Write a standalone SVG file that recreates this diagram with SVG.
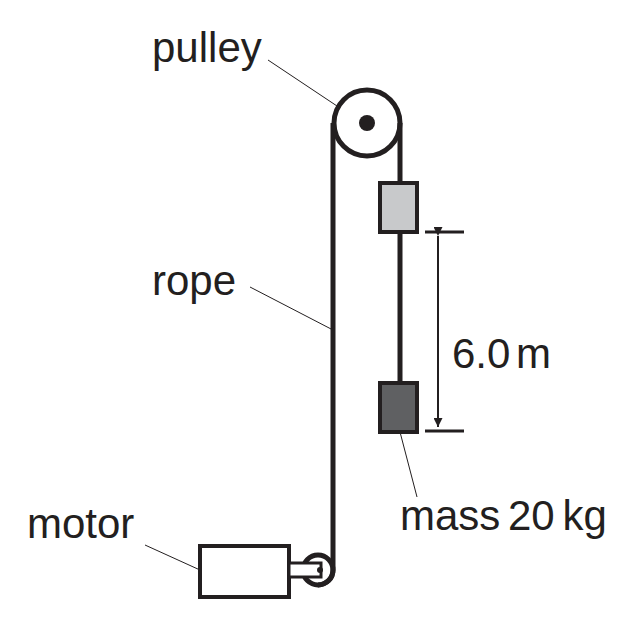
<svg xmlns="http://www.w3.org/2000/svg" width="640" height="622" viewBox="0 0 640 622">
<style>
.t{font-family:"Liberation Sans",Arial,sans-serif;font-size:42px;fill:#231f20}
.k{stroke:#231f20;stroke-width:5;fill:none}
.l{stroke:#231f20;stroke-width:1;fill:none}
</style>
<defs><marker id="a" viewBox="0 0 10 10" refX="10" refY="5" markerWidth="11" markerHeight="9" markerUnits="userSpaceOnUse" orient="auto"><path d="M0,0L10,5L0,10z" fill="#231f20"/></marker></defs>
<rect width="640" height="622" fill="#fff"/>
<g id="connectors">
<path class="k" d="M333,123V570A15,15 0 0 1 318,585"/>
<path class="k" d="M400,123V183M400,232V383"/>
<path class="l" d="M268,60L337,106M250,287L333,330M400,432L417,497M145,545L200,570"/>
<path d="M425,232H464M425,431H464" stroke="#231f20" stroke-width="3"/>
<path d="M438,236V427" stroke="#231f20" stroke-width="2" marker-start="url(#a)" marker-end="url(#a)"/>
</g>
<g id="pulley"><circle class="k" cx="367" cy="123" r="33"/><circle cx="367" cy="123" r="8" fill="#231f20"/></g>
<g id="mass1"><rect x="380" y="183" width="37" height="49" fill="#c8c9cb" stroke="#231f20" stroke-width="4"/></g>
<g id="mass2"><rect x="380" y="383" width="37" height="49" fill="#5f6062" stroke="#231f20" stroke-width="4"/></g>
<g id="motor">
<rect x="200" y="546" width="89" height="51" fill="#fff" stroke="#231f20" stroke-width="4"/>
<circle class="k" cx="318" cy="570" r="15"/>
<rect x="289" y="563" width="32" height="14" fill="#fff" stroke="#231f20" stroke-width="3"/>
<circle cx="320" cy="570" r="3" fill="#231f20"/>
</g>
<g id="labels">
<text class="t" x="152" y="62">pulley</text>
<text class="t" x="152" y="295">rope</text>
<text class="t" x="452" y="368" word-spacing="-6">6.0 m</text>
<text class="t" x="400" y="530" word-spacing="-4">mass 20 kg</text>
<text class="t" x="27" y="538">motor</text>
</g>
</svg>
